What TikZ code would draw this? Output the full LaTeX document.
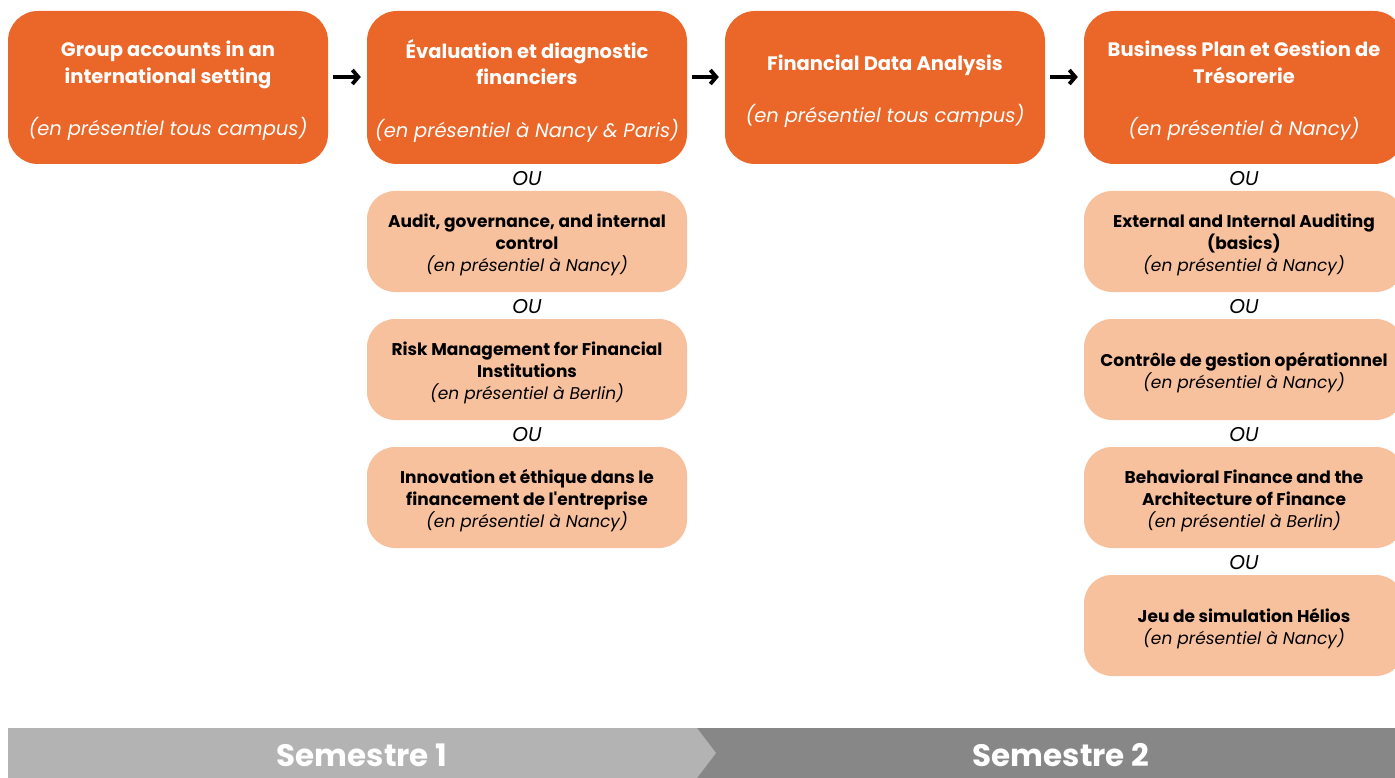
\documentclass[tikz,border=0pt]{standalone}
\usepackage{fontspec}
\setmainfont{Poppins}
% same family without the TeX quote mapping, for a straight apostrophe
\newfontfamily\straightfont{Poppins}
\newcommand\sq{{\straightfont '}}
\usetikzlibrary{arrows.meta,calc}
\definecolor{mainor}{HTML}{EA6629}
\definecolor{peach}{HTML}{F8C19E}
\definecolor{semlight}{HTML}{B3B3B3}
\definecolor{semdark}{HTML}{878787}
\begin{document}
\begin{tikzpicture}[x=1pt,y=-1pt,
  mainbox/.style={draw=none,fill=mainor,rounded corners=30pt,minimum width=320pt,
    minimum height=153pt,inner sep=0pt},
  maintext/.style={text=white,align=center,inner sep=0pt,yshift=-3.5pt,
    font=\fontsize{19.5}{26.5}\selectfont},
  optbox/.style={draw=none,fill=peach,rounded corners=28pt,minimum width=320pt,
    minimum height=101pt,inner sep=0pt},
  opttext/.style={text=black,align=center,inner sep=0pt,yshift=-3pt,
    font=\fontsize{17}{22}\selectfont},
  orlabel/.style={font=\fontsize{20}{22}\selectfont\itshape,text=black,inner sep=0pt},
  flow/.style={line width=3.8pt,-{Straight Barb[length=6pt,width=14pt,line width=3.8pt]}},
  semlabel/.style={text=white,font=\fontsize{31}{34}\selectfont\bfseries,inner sep=0pt}]
\useasboundingbox (0,0) rectangle (1395,778);

% first-year courses
\node[mainbox] (b1) at (168,87.5) {};
\node[maintext] (t1) at (b1) {\textbf{Group accounts in an}\\\textbf{international setting}\\[26pt]\textit{(en présentiel tous campus)}};
\node[mainbox] (b2) at (527,87.5) {};
\node[maintext] (t2) at (b2) {\textbf{Évaluation et diagnostic}\\\textbf{financiers}\\[26pt]\textit{(en présentiel à Nancy \& Paris)}};
\node[mainbox] (b3) at (885,87.5) {};
\node[maintext] (t3) at (b3) {\textbf{Financial Data Analysis}\\[26pt]\textit{(en présentiel tous campus)}};
\node[mainbox] (b4) at (1244,87.5) {};
\node[maintext] (t4) at (b4) {\textbf{Business Plan et Gestion de}\\\textbf{Trésorerie}\\[26pt]\textit{(en présentiel à Nancy)}};

% alternatives, second column
\node[orlabel] (o21) at (527,179) {OU};
\node[optbox] (a21) at (527,241.5) {};
\node[opttext] (u21) at (a21) {\textbf{Audit, governance, and internal}\\\textbf{control}\\\textit{(en présentiel à Nancy)}};
\node[orlabel] (o22) at (527,307) {OU};
\node[optbox] (a22) at (527,369.5) {};
\node[opttext] (u22) at (a22) {\textbf{Risk Management for Financial}\\\textbf{Institutions}\\\textit{(en présentiel à Berlin)}};
\node[orlabel] (o23) at (527,435) {OU};
\node[optbox] (a23) at (527,497.5) {};
\node[opttext] (u23) at (a23) {\textbf{Innovation et éthique dans le}\\\textbf{financement de l\sq entreprise}\\\textit{(en présentiel à Nancy)}};

% alternatives, fourth column
\node[orlabel] (o41) at (1244,179) {OU};
\node[optbox] (a41) at (1244,241.5) {};
\node[opttext] (u41) at (a41) {\textbf{External and Internal Auditing}\\\textbf{(basics)}\\\textit{(en présentiel à Nancy)}};
\node[orlabel] (o42) at (1244,307) {OU};
\node[optbox] (a42) at (1244,369.5) {};
\node[opttext] (u42) at (a42) {\textbf{Contrôle de gestion opérationnel}\\\textit{(en présentiel à Nancy)}};
\node[orlabel] (o43) at (1244,435) {OU};
\node[optbox] (a43) at (1244,497.5) {};
\node[opttext] (u43) at (a43) {\textbf{Behavioral Finance and the}\\\textbf{Architecture of Finance}\\\textit{(en présentiel à Berlin)}};
\node[orlabel] (o44) at (1244,563) {OU};
\node[optbox] (a44) at (1244,625.5) {};
\node[opttext] (u44) at (a44) {\textbf{Jeu de simulation Hélios}\\\textit{(en présentiel à Nancy)}};

% sequence arrows
\draw[flow] ($(b1.east)+(5,-10.5)$) -- ($(b2.west)+(-6,-10.5)$);
\draw[flow] ($(b2.east)+(5,-10.5)$) -- ($(b3.west)+(-6,-10.5)$);
\draw[flow] ($(b3.east)+(5,-10.5)$) -- ($(b4.west)+(-6,-10.5)$);

% semester band
\fill[semdark] (687,728) rectangle (1395,778);
\fill[semlight] (8,728) -- (697,728) -- (716,753) -- (697,778) -- (8,778) -- cycle;
\node[semlabel] (s1) at (362,755) {Semestre 1};
\node[semlabel] (s2) at (1061,755) {Semestre 2};
\end{tikzpicture}
\end{document}
